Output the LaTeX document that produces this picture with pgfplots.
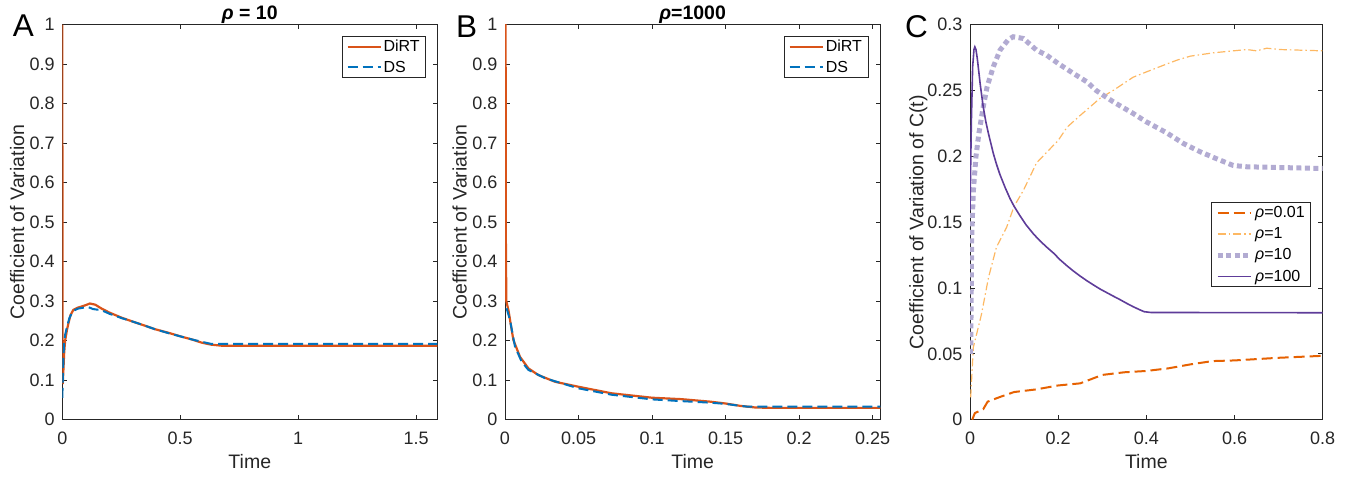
\documentclass[border=0pt]{standalone}
\usepackage{fontspec}
\setmainfont{Liberation Sans}
\usepackage{pgfplots}
\pgfplotsset{compat=1.18}

\definecolor{dirt}{HTML}{D95319}
\definecolor{ds}{HTML}{0072BD}
\definecolor{axgray}{HTML}{262626}
\definecolor{puA}{HTML}{E66101}
\definecolor{puB}{HTML}{FDB863}
\definecolor{puC}{HTML}{B2ABD2}
\definecolor{puD}{HTML}{5E3C99}

\pgfplotsset{
  cvstyle/.style={
    scale only axis,
    height=395.2pt,
    axis line style={axgray, line width=0.7pt},
    tick style={axgray, line width=0.7pt},
    tick align=inside,
    major tick length=4.7pt,
    minor tick num=0,
    scaled ticks=false,
    /pgf/number format/fixed,
    /pgf/number format/precision=2,
    /pgf/number format/assume math mode=true,
    ticklabel style={font=\fontsize{18}{20}\selectfont, color=axgray},
    xticklabel style={inner sep=0pt, yshift=-12pt},
    yticklabel style={inner sep=0pt, xshift=-7.5pt},
    label style={font=\fontsize{19.5}{22}\selectfont, color=axgray},
    xlabel style={at={(axis description cs:0.5,0)}, anchor=base, yshift=-48.6pt, inner sep=0pt},
    title style={font=\bfseries\fontsize{19.5}{22}\selectfont, at={(axis description cs:0.5,1)}, anchor=base, yshift=-0.5pt, inner sep=0pt},
    legend style={font=\fontsize{16}{18}\selectfont, draw=axgray, line width=0.6pt, fill=white,
      inner xsep=4pt, inner ysep=2pt, row sep=3.5pt, cells={anchor=west}},
    legend image code/.code={\draw[#1] (0pt,0pt) -- (33pt,0pt);},
    xlabel={Time},
  },
}

\begin{document}
\begin{tikzpicture}
\useasboundingbox (0pt,0pt) rectangle (1361pt,-477pt);

% panel A
\begin{axis}[cvstyle,
  at={(62.3pt,-419.7pt)}, anchor=south west,
  width=375pt,
  xmin=0, xmax=1.59, ymin=0, ymax=1,
  xtick={0,0.5,1,1.5},
  ytick={0,0.1,0.2,0.3,0.4,0.5,0.6,0.7,0.8,0.9,1},
  ylabel={Coefficient of Variation},
  ylabel style={at={(axis description cs:-0.1021,0.5)}, anchor=base, inner sep=0pt},
  title={\textit{ρ} = 10},
  legend style={at={(0.970,0.971)}, anchor=north east},
]
\addplot[dirt, line width=2.2pt] coordinates {
  (0,1) (0.001,0.28) (0.002,0.09) (0.005,0.13) (0.008,0.17) (0.012,0.2)
  (0.02,0.228) (0.026,0.244) (0.035,0.265) (0.047,0.278) (0.066,0.2835)
  (0.095,0.289) (0.117,0.294) (0.14,0.291) (0.167,0.281) (0.2,0.271)
  (0.252,0.258) (0.3,0.248) (0.35,0.238) (0.393,0.229) (0.45,0.22)
  (0.5,0.211) (0.55,0.203) (0.591,0.195) (0.63,0.19) (0.68,0.187) (1.59,0.187)
};
\addlegendentry{DiRT}
\addplot[ds, line width=2pt, dash pattern=on 10pt off 5pt] coordinates {
  (0,0.055) (0.003,0.12) (0.007,0.19) (0.012,0.215) (0.02,0.235) (0.03,0.257)
  (0.045,0.275) (0.066,0.281) (0.095,0.284) (0.11,0.285) (0.13,0.28)
  (0.167,0.277) (0.2,0.268) (0.252,0.257) (0.3,0.248) (0.35,0.238)
  (0.393,0.229) (0.45,0.219) (0.5,0.211) (0.55,0.203) (0.6,0.196)
  (0.63,0.192) (1.59,0.192)
};
\addlegendentry{DS}
\end{axis}

% panel B
\begin{axis}[cvstyle,
  at={(505pt,-419.7pt)}, anchor=south west,
  width=375.3pt,
  xmin=0, xmax=0.2552, ymin=0, ymax=1,
  xtick={0,0.05,0.1,0.15,0.2,0.25},
  ytick={0,0.1,0.2,0.3,0.4,0.5,0.6,0.7,0.8,0.9,1},
  ylabel={Coefficient of Variation},
  ylabel style={at={(axis description cs:-0.1021,0.5)}, anchor=base, inner sep=0pt},
  title={\textit{ρ}=1000},
  legend style={at={(0.968,0.971)}, anchor=north east},
]
\addplot[dirt, line width=2.2pt] coordinates {
  (0,1) (0.0004,1) (0.0006,0.45) (0.0009,0.30) (0.0023,0.2776)
  (0.0057,0.2016) (0.0102,0.159) (0.0159,0.130) (0.0227,0.113)
  (0.034,0.096) (0.0498,0.0835) (0.0725,0.0668) (0.1,0.0556)
  (0.12,0.052) (0.14,0.0455) (0.15,0.041) (0.16,0.035) (0.17,0.031)
  (0.18,0.030) (0.2552,0.030)
};
\addlegendentry{DiRT}
\addplot[ds, line width=2pt, dash pattern=on 10pt off 5pt] coordinates {
  (0.0011,0.282) (0.0034,0.252) (0.0068,0.185) (0.0113,0.147)
  (0.0159,0.126) (0.0272,0.105) (0.0498,0.0795) (0.0725,0.0632)
  (0.1,0.0514) (0.12,0.047) (0.14,0.043) (0.15,0.04) (0.16,0.035)
  (0.165,0.033) (0.2552,0.033)
};
\addlegendentry{DS}
\end{axis}

% panel C
\begin{axis}[cvstyle,
  at={(970pt,-419.7pt)}, anchor=south west,
  width=352.7pt,
  xmin=0, xmax=0.8, ymin=0, ymax=0.3,
  xtick={0,0.2,0.4,0.6,0.8},
  ytick={0,0.05,0.1,0.15,0.2,0.25,0.3},
  ylabel={Coefficient of Variation of C(t)},
  ylabel style={at={(axis description cs:-0.1324,0.5)}, anchor=base, inner sep=0pt},
  legend style={at={(0.967,0.550)}, anchor=north east, row sep=4.5pt},
]
\addplot[puA, line width=2pt, dash pattern=on 11pt off 5pt] coordinates {
  (0.005,0) (0.011,0.005) (0.03,0.008) (0.04,0.0137) (0.05,0.015)
  (0.07,0.0175) (0.1,0.021) (0.15,0.023) (0.2,0.026) (0.25,0.0276)
  (0.3,0.034) (0.35,0.036) (0.4,0.037) (0.45,0.039) (0.5,0.042)
  (0.55,0.0445) (0.6,0.045) (0.65,0.046) (0.7,0.047) (0.8,0.0485)
};
\addlegendentry{\textit{ρ}=0.01}
\addplot[puB, line width=1.2pt, dash pattern=on 8pt off 3pt on 1.5pt off 3pt] coordinates {
  (0.0015,0.017) (0.0076,0.055) (0.015,0.065) (0.026,0.08) (0.042,0.108)
  (0.06,0.131) (0.083,0.146) (0.1,0.162) (0.121,0.174) (0.151,0.195)
  (0.2,0.212) (0.22,0.222) (0.25,0.231) (0.295,0.244) (0.325,0.25)
  (0.37,0.26) (0.4,0.264) (0.446,0.27) (0.47,0.273) (0.5,0.276)
  (0.552,0.2785) (0.597,0.28) (0.628,0.281) (0.65,0.280) (0.673,0.282)
  (0.703,0.281) (0.8,0.28)
};
\addlegendentry{\textit{ρ}=1}
\addplot[puC, line width=5pt, dash pattern=on 5pt off 3.5pt] coordinates {
  (0.0015,0.05) (0.004,0.141) (0.0076,0.174) (0.0136,0.2) (0.02,0.217)
  (0.03,0.2375) (0.039,0.253) (0.053,0.268) (0.068,0.2805) (0.087,0.2886)
  (0.098,0.2907) (0.121,0.2894) (0.151,0.2805) (0.174,0.2767) (0.2,0.2704)
  (0.234,0.263) (0.265,0.2565) (0.287,0.2497) (0.325,0.2413) (0.37,0.2325)
  (0.4,0.2261) (0.446,0.2178) (0.484,0.2097) (0.522,0.2034) (0.56,0.198)
  (0.597,0.193) (0.628,0.192) (0.8,0.1907)
};
\addlegendentry{\textit{ρ}=10}
\addplot[puD, line width=1.6pt] coordinates {
  (0,0.159) (0.003,0.225) (0.006,0.268) (0.009,0.281) (0.011,0.283)
  (0.0135,0.281) (0.0166,0.274) (0.02,0.264) (0.023,0.255) (0.03,0.2375)
  (0.036,0.226) (0.042,0.217) (0.053,0.202) (0.06,0.194) (0.068,0.186)
  (0.08,0.176) (0.091,0.1677) (0.1,0.162) (0.113,0.155) (0.127,0.148)
  (0.144,0.141) (0.158,0.136) (0.174,0.131) (0.19,0.1263) (0.204,0.1215)
  (0.22,0.1168) (0.234,0.1130) (0.25,0.1090) (0.265,0.1055) (0.28,0.1023)
  (0.295,0.0992) (0.31,0.0965) (0.325,0.0938) (0.34,0.0912) (0.355,0.0884)
  (0.37,0.0858) (0.386,0.0833) (0.395,0.0820) (0.41,0.0814) (0.8,0.0812)
};
\addlegendentry{\textit{ρ}=100}
\end{axis}

\node[anchor=base west, inner sep=0pt, font=\fontsize{31.5}{34}\selectfont] at (12.7pt,-36.5pt) {A};
\node[anchor=base west, inner sep=0pt, font=\fontsize{31.5}{34}\selectfont] at (456pt,-37.5pt) {B};
\node[anchor=base west, inner sep=0pt, font=\fontsize{31.5}{34}\selectfont] at (905pt,-37.5pt) {C};
\end{tikzpicture}
\end{document}
